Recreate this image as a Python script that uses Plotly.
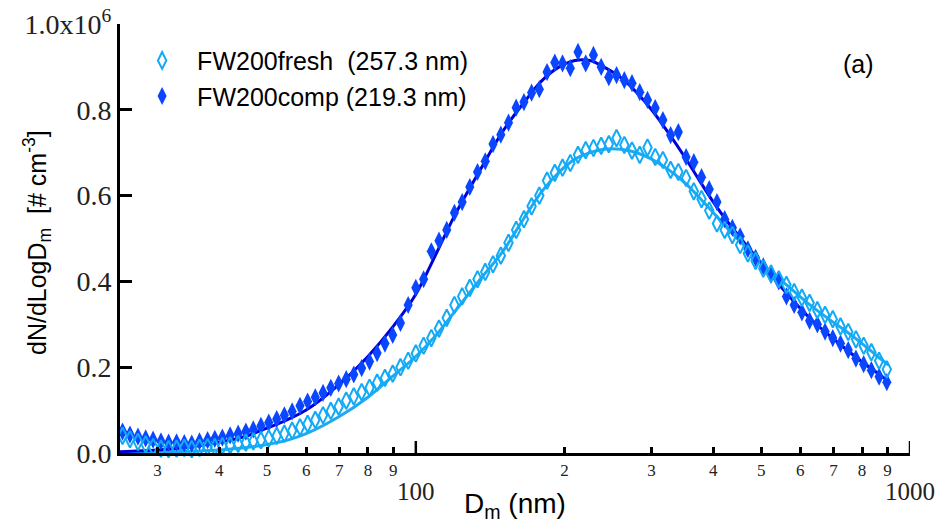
import math
import plotly.graph_objects as go

# Particle mobility diameter bins (nm)
diam = [25.5, 26.4, 27.4, 28.4, 29.4, 30.5, 31.6, 32.8, 34.0, 35.2,
        36.5, 37.9, 39.2, 40.6, 42.1, 43.7, 45.3, 46.9, 48.6, 50.4,
        52.3, 54.2, 56.2, 58.3, 60.4, 62.6, 64.9, 67.3, 69.8, 72.3,
        74.9, 77.7, 80.6, 83.5, 86.6, 89.8, 93.1, 96.5, 100.0, 103.7,
        107.5, 111.4, 115.5, 119.7, 124.1, 128.6, 133.3, 138.2, 143.3, 148.6,
        154.0, 159.6, 165.5, 171.5, 177.8, 184.3, 191.1, 198.1, 205.4, 212.9,
        220.7, 228.8, 237.2, 245.8, 254.8, 264.2, 273.8, 283.9, 294.3, 305.1,
        316.2, 327.8, 339.8, 352.3, 365.2, 378.6, 392.4, 406.8, 421.7, 437.1,
        453.2, 469.8, 487.0, 504.8, 523.3, 542.5, 562.3, 582.9, 604.3, 626.4,
        649.4, 673.2, 697.8, 723.4, 749.9, 777.3, 805.8, 835.3, 865.9, 897.6]

# dN/dLogDm in units of 1e6 # cm-3
fresh = [0.040, 0.032, 0.026, 0.020, 0.014, 0.010, 0.009, 0.010, 0.012, 0.009,
         0.012, 0.014, 0.014, 0.016, 0.018, 0.021, 0.024, 0.027, 0.030, 0.034,
         0.040, 0.045, 0.052, 0.060, 0.068, 0.077, 0.088, 0.098, 0.108, 0.122,
         0.132, 0.142, 0.152, 0.164, 0.175, 0.185, 0.200, 0.215, 0.232, 0.250,
         0.268, 0.290, 0.315, 0.345, 0.365, 0.385, 0.405, 0.422, 0.440, 0.460,
         0.490, 0.520, 0.545, 0.575, 0.600, 0.635, 0.653, 0.665, 0.676, 0.695,
         0.706, 0.711, 0.716, 0.720, 0.734, 0.718, 0.705, 0.695, 0.712, 0.690,
         0.683, 0.660, 0.655, 0.641, 0.610, 0.592, 0.565, 0.535, 0.520, 0.508,
         0.485, 0.465, 0.448, 0.430, 0.418, 0.405, 0.392, 0.375, 0.362, 0.350,
         0.333, 0.322, 0.312, 0.295, 0.282, 0.265, 0.250, 0.235, 0.215, 0.195]

comp = [0.050, 0.043, 0.038, 0.034, 0.031, 0.027, 0.024, 0.025, 0.023, 0.022,
        0.027, 0.030, 0.033, 0.036, 0.041, 0.045, 0.050, 0.055, 0.063, 0.071,
        0.079, 0.088, 0.097, 0.110, 0.120, 0.130, 0.140, 0.152, 0.162, 0.172,
        0.183, 0.198, 0.213, 0.233, 0.255, 0.275, 0.303, 0.345, 0.385, 0.405,
        0.470, 0.495, 0.520, 0.560, 0.585, 0.620, 0.655, 0.680, 0.720, 0.742,
        0.770, 0.805, 0.818, 0.840, 0.848, 0.888, 0.910, 0.908, 0.897, 0.935,
        0.908, 0.928, 0.900, 0.876, 0.881, 0.869, 0.862, 0.841, 0.823, 0.804,
        0.776, 0.741, 0.748, 0.690, 0.678, 0.643, 0.615, 0.585, 0.545, 0.525,
        0.505, 0.475, 0.455, 0.435, 0.415, 0.400, 0.365, 0.345, 0.328, 0.308,
        0.300, 0.283, 0.268, 0.255, 0.240, 0.220, 0.207, 0.193, 0.178, 0.165]

# Log-normal fit curves
fit_d = [25.2, 30, 35, 40, 45, 50, 55, 60, 70, 80, 90, 100, 110, 120, 135, 150,
         165, 180, 195, 210, 225, 240, 260, 280, 300, 325, 350, 375, 400, 430,
         470, 515, 565, 620, 680, 740, 800, 860, 905]
fit_fresh = [0.001, 0.002, 0.004, 0.007, 0.012, 0.020, 0.030, 0.045, 0.085, 0.130,
             0.180, 0.225, 0.275, 0.330, 0.405, 0.470, 0.545, 0.610, 0.655, 0.685,
             0.700, 0.708, 0.708, 0.700, 0.685, 0.660, 0.630, 0.595, 0.560, 0.520,
             0.475, 0.430, 0.390, 0.350, 0.315, 0.285, 0.255, 0.225, 0.205]
fit_comp = [0.003, 0.007, 0.014, 0.025, 0.038, 0.058, 0.078, 0.100, 0.160, 0.225,
            0.295, 0.370, 0.465, 0.555, 0.660, 0.750, 0.815, 0.868, 0.900, 0.915,
            0.915, 0.900, 0.875, 0.840, 0.800, 0.745, 0.690, 0.635, 0.585, 0.535,
            0.480, 0.425, 0.370, 0.320, 0.278, 0.243, 0.212, 0.186, 0.167]

x_tick_vals = [30, 40, 50, 60, 70, 80, 90, 200, 300, 400, 500, 600, 700, 800, 900]
x_tick_text = ["3", "4", "5", "6", "7", "8", "9", "2", "3", "4", "5", "6", "7", "8", "9"]
x_major_vals = [100, 1000]
x_major_text = ["100", "1000"]
y_tick_vals = [0, 0.2, 0.4, 0.6, 0.8, 1.0]
y_tick_text = ["0.0", "0.2", "0.4", "0.6", "0.8", "1.0x10<sup>6</sup>"]

SCALE = 1e6
C_FRESH = "#12AAF6"
C_FRESH_LINE = "#1FAAF0"
C_COMP = "#0A46FF"
C_COMP_LINE = "#0000D8"
SANS = "Liberation Sans, Arial, sans-serif"
SERIF = "Liberation Serif, Times New Roman, serif"

fig = go.Figure()
fig.add_trace(go.Scatter(x=fit_d, y=[v * SCALE for v in fit_fresh], mode="lines",
                         line=dict(color=C_FRESH_LINE, width=3, shape="spline"),
                         showlegend=False, cliponaxis=False))
fig.add_trace(go.Scatter(x=fit_d, y=[v * SCALE for v in fit_comp], mode="lines",
                         line=dict(color=C_COMP_LINE, width=3, shape="spline"),
                         showlegend=False, cliponaxis=False))
fig.add_trace(go.Scatter(x=diam, y=[v * SCALE for v in comp], mode="markers",
                         name="FW200comp (219.3 nm)", legendrank=2,
                         marker=dict(symbol="diamond-tall", size=13, color=C_COMP,
                                     line=dict(width=0)),
                         cliponaxis=False))
fig.add_trace(go.Scatter(x=diam, y=[v * SCALE for v in fresh], mode="markers",
                         name="FW200fresh\u00a0 (257.3 nm)", legendrank=1,
                         marker=dict(symbol="diamond-tall-open", size=12, color=C_FRESH,
                                     line=dict(width=2, color=C_FRESH)),
                         cliponaxis=False))

shapes = []
for v in x_major_vals:
    shapes.append(dict(type="line", xref="x", yref="paper", x0=v, x1=v, y0=0, y1=0.028,
                       line=dict(color="black", width=2.5)))

annotations = []
for v, t in zip(x_major_vals, x_major_text):
    annotations.append(dict(x=math.log10(v), y=0, xref="x", yref="paper", text=t,
                            showarrow=False, yanchor="top", yshift=-23,
                            font=dict(family=SERIF, size=25, color="#222")))
annotations.append(dict(x=(858 - 120) / 790, y=(453 - 64) / 429, xref="paper", yref="paper",
                        text="(a)", showarrow=False, xanchor="center", yanchor="middle",
                        font=dict(family=SANS, size=25, color="black")))
annotations.append(dict(x=(515 - 120) / 790, y=(453 - 506) / 429, xref="paper", yref="paper",
                        text="D<sub>m</sub> (nm)", showarrow=False,
                        xanchor="center", yanchor="middle",
                        font=dict(family=SANS, size=28, color="black")))
annotations.append(dict(x=(37 - 120) / 790, y=(453 - 243) / 429, xref="paper", yref="paper",
                        text="dN/dLogD<sub>m</sub>  [# cm<sup>-3</sup>]", showarrow=False,
                        textangle=-90, xanchor="center", yanchor="middle",
                        font=dict(family=SANS, size=25, color="black")))

fig.update_layout(
    width=938, height=524,
    margin=dict(l=120, r=28, t=24, b=71, autoexpand=False),
    plot_bgcolor="white", paper_bgcolor="white",
    showlegend=True,
    legend=dict(x=0.009, y=0.968, xanchor="left", yanchor="top",
                bgcolor="rgba(0,0,0,0)", font=dict(family=SANS, size=25, color="black"),
                itemwidth=60, tracegroupgap=0),
    shapes=shapes, annotations=annotations,
)
fig.update_xaxes(type="log", range=[math.log10(25.2), 3.0], automargin=False,
                 showline=True, linecolor="black", linewidth=3,
                 ticks="inside", ticklen=6, tickwidth=2.5, tickcolor="black",
                 tickvals=x_tick_vals, ticktext=x_tick_text,
                 tickfont=dict(family=SERIF, size=17, color="#222"),
                 showgrid=False, zeroline=False)
fig.update_yaxes(range=[0, 1.0 * SCALE], automargin=False,
                 showline=True, linecolor="black", linewidth=3,
                 ticks="inside", ticklen=12, tickwidth=2.5, tickcolor="black",
                 tickvals=[v * SCALE for v in y_tick_vals], ticktext=y_tick_text,
                 tickfont=dict(family=SERIF, size=28, color="#222"),
                 showgrid=False, zeroline=False)

fig.write_html("out.html")
